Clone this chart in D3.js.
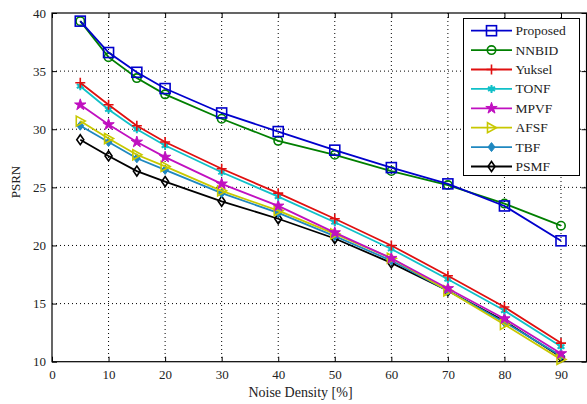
<!DOCTYPE html>
<html><head><meta charset="utf-8">
<script src="https://cdn.jsdelivr.net/npm/d3@7"></script>
<style>body{margin:0;background:#fff}svg{display:block}</style>
</head><body>
<svg id="c" width="587" height="404"></svg>
<script>
const noise = [5,10,15,20,30,40,50,60,70,80,90];
const proposed = [39.3,36.6,34.9,33.5,31.4,29.8,28.2,26.7,25.3,23.4,20.4];
const nnbid    = [39.3,36.2,34.4,33.0,30.9,29.0,27.8,26.4,25.2,23.6,21.7];
const yuksel   = [34.0,32.1,30.3,28.9,26.6,24.5,22.3,20.0,17.4,14.7,11.6];
const tonf     = [33.7,31.7,30.0,28.6,26.3,24.2,22.0,19.7,17.1,14.4,11.3];
const mpvf     = [32.1,30.4,28.9,27.6,25.3,23.4,21.1,18.9,16.3,13.7,10.7];
const afsf     = [30.7,29.2,27.8,26.8,24.7,23.0,21.0,18.9,16.1,13.2,10.2];
const tbf      = [30.3,28.9,27.5,26.5,24.5,22.8,20.8,18.7,16.1,13.4,10.5];
const psmf     = [29.1,27.7,26.4,25.5,23.8,22.3,20.6,18.5,16.1,13.5,10.4];
const xTicks = [0,10,20,30,40,50,60,70,80,90];
const yTicks = [10,15,20,25,30,35,40];
const seriesNames = ["Proposed","NNBID","Yuksel","TONF","MPVF","AFSF","TBF","PSMF"];
const seriesData = [proposed,nnbid,yuksel,tonf,mpvf,afsf,tbf,psmf];
const colors = ["#0000cc","#007f00","#e01010","#10c0c8","#c010c0","#c8c800","#1f88c0","#000000"];
const markers = ["square","circle","plus","asterisk","star","triangle","dfill","diamond"];

const svg = d3.select("#c");
const L=52, R=586.5, T=13, B=361.7;
const x = d3.scaleLinear().domain([0,90]).range([L, L+509]);
const y = d3.scaleLinear().domain([10,40]).range([B,T]);
const font = "Liberation Serif, Times New Roman, serif";

// grid
const g = svg.append("g");
xTicks.slice(1).forEach(t=>{
  g.append("line").attr("x1",x(t)).attr("x2",x(t)).attr("y1",T).attr("y2",B)
   .attr("stroke","#000").attr("stroke-width",1).attr("stroke-dasharray","1,3");
});
yTicks.slice(1,-1).forEach(t=>{
  g.append("line").attr("x1",L).attr("x2",R).attr("y1",y(t)).attr("y2",y(t))
   .attr("stroke","#000").attr("stroke-width",1).attr("stroke-dasharray","1,3");
});

// axes
const xAxis = d3.axisBottom(x).tickValues(xTicks).tickSizeInner(-5).tickSizeOuter(0).tickPadding(8);
const yAxis = d3.axisLeft(y).tickValues(yTicks).tickSizeInner(-5).tickSizeOuter(0).tickPadding(6);
const xa = svg.append("g").attr("transform",`translate(0,${B})`).call(xAxis);
const ya = svg.append("g").attr("transform",`translate(${L},0)`).call(yAxis);
const xt = svg.append("g").attr("transform",`translate(0,${T})`).call(d3.axisTop(x).tickValues(xTicks).tickSizeInner(-5).tickSizeOuter(0).tickFormat(""));
const yr = svg.append("g").attr("transform",`translate(${R},0)`).call(d3.axisRight(y).tickValues(yTicks).tickSizeInner(-5).tickSizeOuter(0).tickFormat(""));
[xa,ya,xt,yr].forEach(a=>{
  a.select(".domain").remove();
  a.selectAll("text").attr("font-family",font).attr("font-size",13).attr("fill","#222");
  a.selectAll("line").attr("stroke","#000");
});
svg.append("rect").attr("x",L).attr("y",T).attr("width",R-L).attr("height",B-T)
  .attr("fill","none").attr("stroke","#000").attr("stroke-width",1.2);

// axis labels
svg.append("text").attr("x",300.5).attr("y",397).attr("text-anchor","middle")
  .attr("font-family",font).attr("font-size",14).attr("fill","#222").text("Noise Density [%]");
svg.append("text").attr("transform",`translate(20,182) rotate(-90)`).attr("text-anchor","middle")
  .attr("font-family",font).attr("font-size",13).attr("fill","#222").text("PSRN");

function drawMarker(sel, type, color, cx, cy){
  const s = sel.append("g").attr("transform",`translate(${cx},${cy})`);
  const sw = 1.6;
  if(type==="square") s.append("rect").attr("x",-5).attr("y",-5).attr("width",10).attr("height",10).attr("fill","none").attr("stroke",color).attr("stroke-width",sw);
  else if(type==="circle") s.append("circle").attr("r",4.2).attr("fill","none").attr("stroke",color).attr("stroke-width",sw);
  else if(type==="plus") s.append("path").attr("d","M-5,0H5M0,-5V5").attr("stroke",color).attr("stroke-width",sw);
  else if(type==="asterisk"){ s.append("path").attr("d",d3.symbol(d3.symbolAsterisk,45)()).attr("stroke",color).attr("stroke-width",2); s.append("circle").attr("r",2.5).attr("fill",color);}
  else if(type==="star") s.append("path").attr("d",d3.symbol(d3.symbolStar,40)()).attr("fill",color).attr("stroke",color).attr("stroke-width",1);
  else if(type==="triangle") s.append("path").attr("d","M-4,-5L5,0L-4,5Z").attr("fill","none").attr("stroke",color).attr("stroke-width",sw);
  else if(type==="dfill") s.append("path").attr("d","M0,-4.5L3.5,0L0,4.5L-3.5,0Z").attr("fill",color).attr("stroke",color).attr("stroke-width",1);
  else if(type==="diamond") s.append("path").attr("d","M0,-5L3.5,0L0,5L-3.5,0Z").attr("fill","none").attr("stroke",color).attr("stroke-width",sw);
}

const line = d3.line().x(d=>x(d[0])).y(d=>y(d[1]));
const order = [7,6,5,4,3,2,1,0];
order.forEach(i=>{
  const pts = noise.map((n,j)=>[n, seriesData[i][j]]);
  const sg = svg.append("g");
  sg.append("path").attr("d",line(pts)).attr("fill","none").attr("stroke",colors[i]).attr("stroke-width",1.8);
  pts.forEach(p=>drawMarker(sg, markers[i], colors[i], x(p[0]), y(p[1])));
});

// legend
const lg = svg.append("g");
lg.append("rect").attr("x",463.5).attr("y",18.5).attr("width",116).attr("height",157)
  .attr("fill","#fff").attr("stroke","#000").attr("stroke-width",1);
seriesNames.forEach((n,i)=>{
  const yy = 30.7 + i*19.4;
  lg.append("line").attr("x1",471).attr("x2",512).attr("y1",yy).attr("y2",yy).attr("stroke",colors[i]).attr("stroke-width",1.8);
  drawMarker(lg, markers[i], colors[i], 491.5, yy);
  lg.append("text").attr("x",515.5).attr("y",yy+4.5).attr("font-family",font).attr("font-size",13.5).attr("fill","#222").text(n);
});
</script>
</body></html>
